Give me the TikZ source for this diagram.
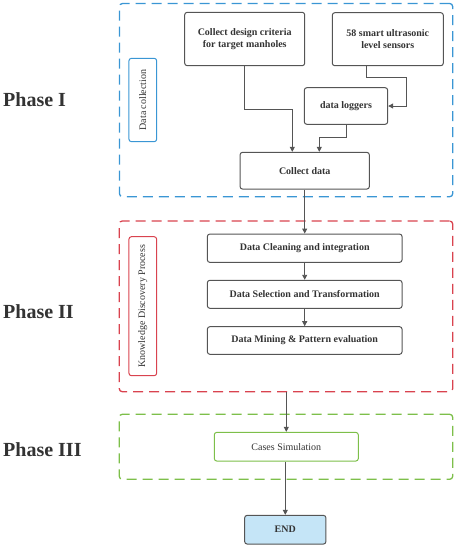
\documentclass[tikz,border=0pt]{standalone}
\usepackage{fontspec}
\setmainfont{Liberation Serif}
\usetikzlibrary{arrows.meta}
\definecolor{cblue}{HTML}{3A96D4}
\definecolor{cred}{HTML}{D9434F}
\definecolor{cgreen}{HTML}{7DBF4A}
\definecolor{cgray}{HTML}{555555}
\definecolor{ctext}{HTML}{333333}
\definecolor{cend}{HTML}{C5E5F7}
\tikzset{
  grp/.style={draw, line width=1.3pt, dash pattern=on 10pt off 6pt, rounded corners=3pt, inner sep=0pt},
  boxn/.style={draw=cgray, line width=1pt, rounded corners=2.5pt, align=center, font=\fontsize{10}{12}\selectfont\bfseries, text=ctext, inner sep=0pt},
  lbl/.style={draw, line width=1pt, rounded corners=2.5pt, inner sep=0pt, rotate=90, font=\fontsize{10}{12}\selectfont, text=ctext},
  phase/.style={anchor=west, font=\fontsize{20}{24}\selectfont\bfseries, text=ctext, inner sep=0pt},
  conn/.style={draw=cgray, line width=0.9pt, -{Triangle[length=5pt,width=5pt]}}
}
\begin{document}
\begin{tikzpicture}[x=1pt,y=-1pt]
\useasboundingbox (0,0) rectangle (458,550);
% groups
\node[grp, draw=cblue, minimum width=333.2pt, minimum height=193.2pt] (g1) at (286.1,100.1) {};
\node[grp, draw=cred, minimum width=333.4pt, minimum height=170.7pt] (g2) at (286,306.35) {};
\node[grp, draw=cgreen, minimum width=333.4pt, minimum height=65pt] (g3) at (286,446.8) {};
% labels
\node[lbl, draw=cblue, minimum width=83.4pt, minimum height=27.7pt] (dcl) at (142.8,100) {Data collection};
\node[lbl, draw=cred, minimum width=139pt, minimum height=27.7pt] (kdp) at (142.8,306.2) {Knowledge Discovery Process};
% phase labels
\node[phase] (p1) at (3,100) {Phase I};
\node[phase] (p2) at (3,311.7) {Phase II};
\node[phase] (p3) at (3,450) {Phase III};
% boxes
\node[boxn, minimum width=120pt, minimum height=53.4pt] (crit) at (244.7,39) {Collect design criteria\\for target manholes};
\node[boxn, minimum width=111pt, minimum height=53pt] (s58) at (387.8,39.2) {58 smart ultrasonic\\level sensors};
\node[boxn, minimum width=83.4pt, minimum height=36.6pt] (log) at (346,106) {data loggers};
\node[boxn, minimum width=129.3pt, minimum height=36.7pt] (col) at (304.7,170.7) {Collect data};
\node[boxn, minimum width=194.7pt, minimum height=28.3pt] (clean) at (304.7,248.2) {Data Cleaning and integration};
\node[boxn, minimum width=194.7pt, minimum height=28pt] (sel) at (304.7,294.3) {Data Selection and Transformation};
\node[boxn, minimum width=194.7pt, minimum height=27.6pt] (mine) at (304.7,340.5) {Data Mining \& Pattern evaluation};
\node[boxn, draw=cgreen, font=\fontsize{10}{12}\selectfont, minimum width=144pt, minimum height=28.7pt] (cases) at (286.3,446.7) {Cases Simulation};
\node[boxn, fill=cend, minimum width=81.3pt, minimum height=28.7pt] (end) at (285.3,529.7) {END};
% connectors
\draw[conn] (crit.south) -- ++(0,43.3) -| ([xshift=-12.4pt]col.north);
\draw[conn] ([xshift=-21.1pt]s58.south) -- ++(0,11) -| ([xshift=18.3pt]log.east) -- (log.east);
\draw[conn] ([xshift=0.7pt]log.south) -- ++(0,12.4) -| ([xshift=14.6pt]col.north);
\draw[conn] (col.south) -- (clean.north);
\draw[conn] (clean.south) -- (sel.north);
\draw[conn] (sel.south) -- (mine.north);
\draw[conn] (g2.south -| cases.north) -- (cases.north);
\draw[conn] (cases.south -| end.north) -- (end.north);
\end{tikzpicture}
\end{document}
